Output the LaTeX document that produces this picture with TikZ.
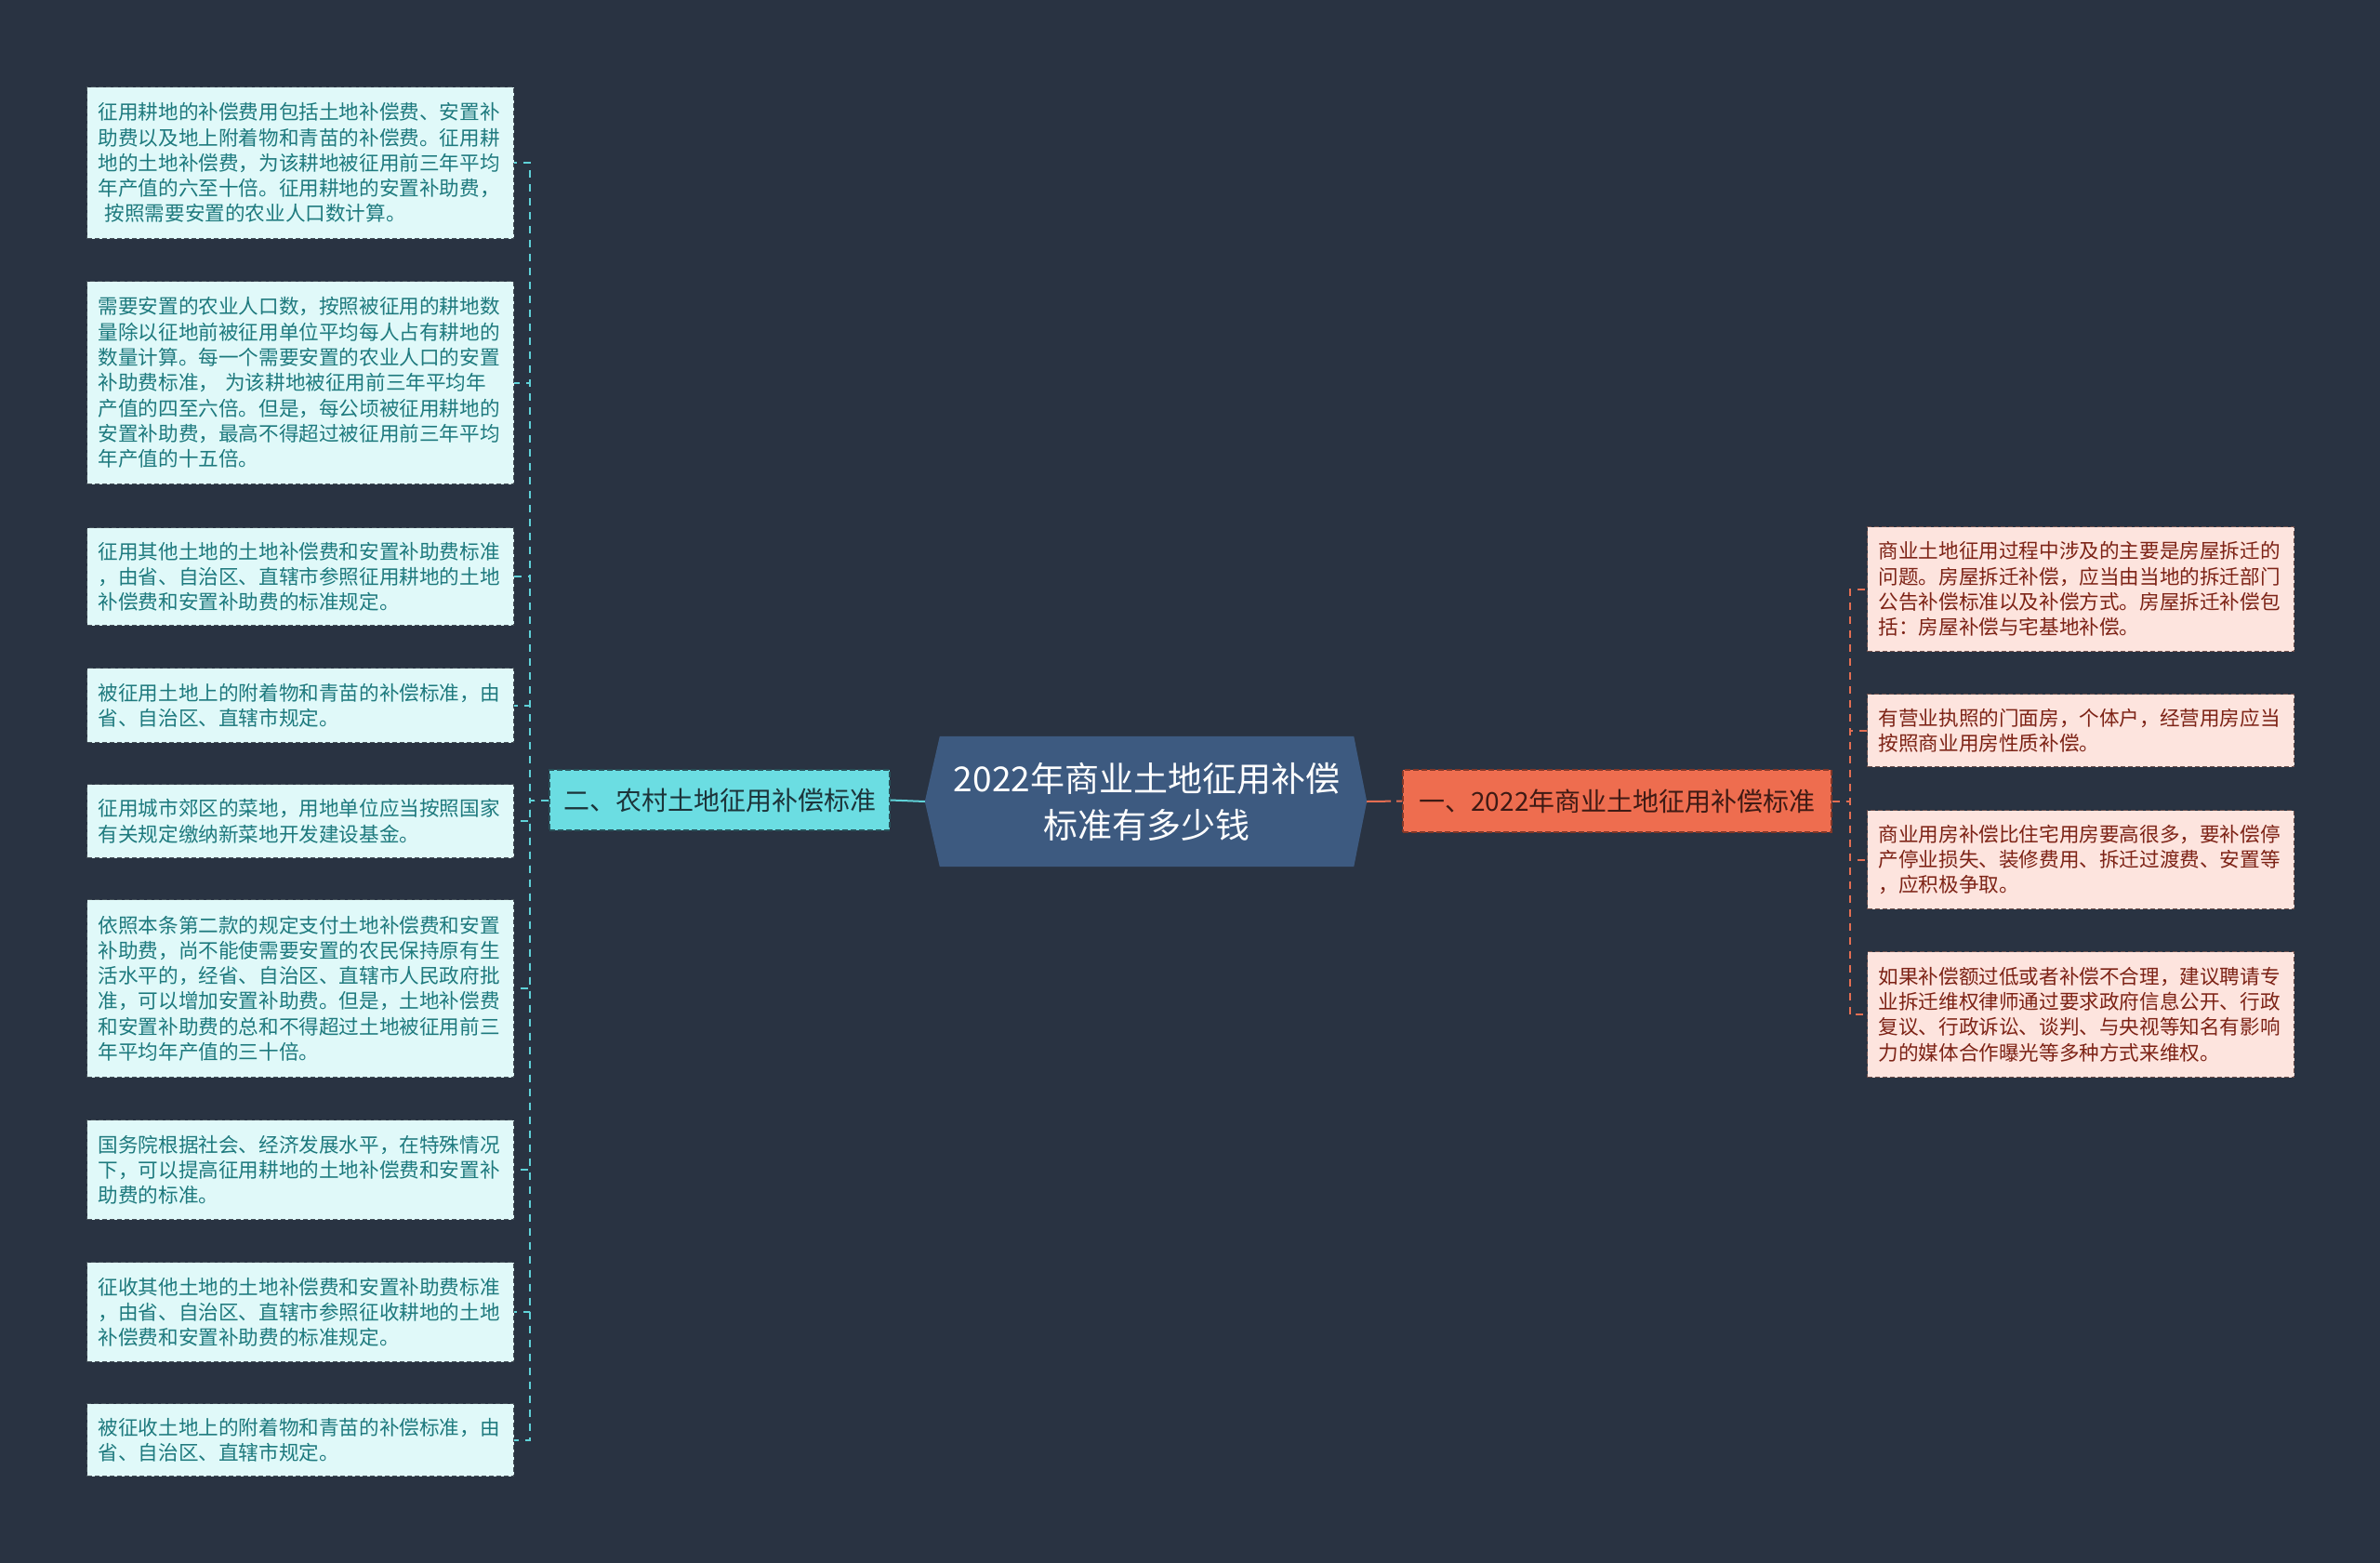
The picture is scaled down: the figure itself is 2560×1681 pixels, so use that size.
\documentclass[tikz,border=0pt]{standalone}
\usepackage{fontspec}
\setmainfont{Noto Sans CJK SC}
\usetikzlibrary{calc}
\definecolor{bgc}{RGB}{41,51,66}
\definecolor{cfill}{RGB}{61,90,128}
\definecolor{lbfill}{RGB}{107,221,226}
\definecolor{lbtext}{RGB}{28,52,58}
\definecolor{lbborder}{RGB}{40,80,88}
\definecolor{llfill}{RGB}{224,249,249}
\definecolor{lltext}{RGB}{30,122,126}
\definecolor{llborder}{RGB}{70,82,90}
\definecolor{rbfill}{RGB}{238,109,79}
\definecolor{rbtext}{RGB}{62,26,20}
\definecolor{rbborder}{RGB}{130,55,40}
\definecolor{rlfill}{RGB}{253,228,222}
\definecolor{rltext}{RGB}{125,35,22}
\definecolor{rlborder}{RGB}{110,80,76}
\definecolor{lline}{RGB}{95,210,216}
\definecolor{rline}{RGB}{228,110,82}
\begin{document}
\begin{tikzpicture}[x=1pt,y=-1pt,
  leafbox/.style={anchor=north west, text width=435pt, inner xsep=12pt, inner ysep=0pt,
    align=left, line width=1.2pt, dash pattern=on 5pt off 3pt,
    font=\fontsize{21.6pt}{27.3pt}\selectfont},
  lleaf/.style={leafbox, fill=llfill, draw=llborder, text=lltext},
  rleaf/.style={leafbox, fill=rlfill, draw=rlborder, text=rltext},
  branchbox/.style={inner sep=0pt, line width=1.4pt, dash pattern=on 6pt off 3pt,
    font=\fontsize{28pt}{34pt}\selectfont},
  lconn/.style={draw=lline, line width=2pt, dash pattern=on 8pt off 7pt},
  rconn/.style={draw=rline, line width=2pt, dash pattern=on 8pt off 7pt}
]
\fill[bgc] (0,0) rectangle (2560,1681);
\useasboundingbox (0,0) rectangle (2560,1681);

% centre
\path node[minimum width=445pt, minimum height=140pt, inner sep=0pt] (c) at (1233.5,862) {};
\coordinate (cw) at ($(c.west)+(-16,0)$);
\coordinate (ce) at ($(c.east)+(14,0)$);
\fill[cfill] (c.north west) -- (c.north east) -- (ce) -- (c.south east) -- (c.south west) -- (cw) -- cycle;
\node[text=white, align=center, font=\fontsize{37pt}{50pt}\selectfont, inner sep=0pt] (ct) at (c.center)
  {2022年商业土地征用补偿\\标准有多少钱};

% branches
\node[branchbox, fill=lbfill, draw=lbborder, text=lbtext, minimum width=366pt, minimum height=65pt] (lb) at (774,860.5) {二、农村土地征用补偿标准};
\node[branchbox, fill=rbfill, draw=rbborder, text=rbtext, minimum width=461pt, minimum height=67pt] (rb) at (1739.5,861.5) {一、2022年商业土地征用补偿标准};

\draw[draw=lline, line width=2pt] (cw) -- (lb.east);
\draw[draw=rline, line width=2pt, dash pattern=on 26pt off 6pt on 6pt off 6pt] (ce) -- (rb.west);

% left leaves
\node[lleaf, minimum height=163pt] (L1) at (93,93) {征用耕地的补偿费用包括土地补偿费、安置补\\助费以及地上附着物和青苗的补偿费。征用耕\\地的土地补偿费，为该耕地被征用前三年平均\\年产值的六至十倍。征用耕地的安置补助费，\\\hspace*{7pt}按照需要安置的农业人口数计算。};
\node[lleaf, minimum height=218pt] (L2) at (93,302) {需要安置的农业人口数，按照被征用的耕地数\\量除以征地前被征用单位平均每人占有耕地的\\数量计算。每一个需要安置的农业人口的安置\\补助费标准， 为该耕地被征用前三年平均年\\产值的四至六倍。但是，每公顷被征用耕地的\\安置补助费，最高不得超过被征用前三年平均\\年产值的十五倍。};
\node[lleaf, minimum height=105pt] (L3) at (93,567) {征用其他土地的土地补偿费和安置补助费标准\\，由省、自治区、直辖市参照征用耕地的土地\\补偿费和安置补助费的标准规定。};
\node[lleaf, minimum height=80pt] (L4) at (93,718) {被征用土地上的附着物和青苗的补偿标准，由\\省、自治区、直辖市规定。};
\node[lleaf, minimum height=79pt] (L5) at (93,843) {征用城市郊区的菜地，用地单位应当按照国家\\有关规定缴纳新菜地开发建设基金。};
\node[lleaf, minimum height=191pt] (L6) at (93,967) {依照本条第二款的规定支付土地补偿费和安置\\补助费，尚不能使需要安置的农民保持原有生\\活水平的，经省、自治区、直辖市人民政府批\\准，可以增加安置补助费。但是，土地补偿费\\和安置补助费的总和不得超过土地被征用前三\\年平均年产值的三十倍。};
\node[lleaf, minimum height=107pt] (L7) at (93,1204) {国务院根据社会、经济发展水平，在特殊情况\\下，可以提高征用耕地的土地补偿费和安置补\\助费的标准。};
\node[lleaf, minimum height=107pt] (L8) at (93,1357) {征收其他土地的土地补偿费和安置补助费标准\\，由省、自治区、直辖市参照征收耕地的土地\\补偿费和安置补助费的标准规定。};
\node[lleaf, minimum height=78pt] (L9) at (93,1509) {被征收土地上的附着物和青苗的补偿标准，由\\省、自治区、直辖市规定。};

% right leaves
\node[rleaf, minimum height=134pt] (R1) at (2008,566) {商业土地征用过程中涉及的主要是房屋拆迁的\\问题。房屋拆迁补偿，应当由当地的拆迁部门\\公告补偿标准以及补偿方式。房屋拆迁补偿包\\括：房屋补偿与宅基地补偿。};
\node[rleaf, minimum height=78pt] (R2) at (2008,746) {有营业执照的门面房，个体户，经营用房应当\\按照商业用房性质补偿。};
\node[rleaf, minimum height=106pt] (R3) at (2008,871) {商业用房补偿比住宅用房要高很多，要补偿停\\产停业损失、装修费用、拆迁过渡费、安置等\\，应积极争取。};
\node[rleaf, minimum height=135pt] (R4) at (2008,1023) {如果补偿额过低或者补偿不合理，建议聘请专\\业拆迁维权律师通过要求政府信息公开、行政\\复议、行政诉讼、谈判、与央视等知名有影响\\力的媒体合作曝光等多种方式来维权。};

% connectors
\foreach \n in {L1,L2,L3,L4,L5,L6,L7,L8,L9}
  \draw[lconn] (lb.west) -- ++(-20,0) |- (\n.east);
\foreach \n in {R1,R2,R3,R4}
  \draw[rconn] (rb.east) -- ++(19,0) |- (\n.west);
\end{tikzpicture}
\end{document}
